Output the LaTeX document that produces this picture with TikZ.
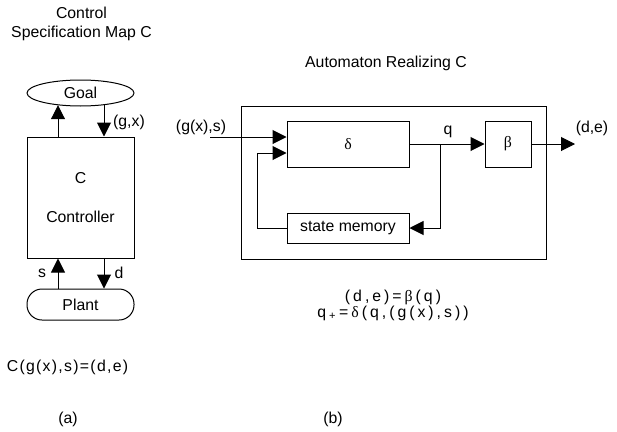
\documentclass[tikz,border=0pt]{standalone}
\usepackage{fontspec}
\setmainfont{Liberation Sans}
\newfontfamily\gk{Liberation Serif}
\usetikzlibrary{arrows.meta,shapes.geometric}
\newcommand{\ka}{\kern1.3pt}
\newcommand{\kb}{\kern3pt}
\begin{document}
\begin{tikzpicture}[x=1pt,y=-1pt,
  line width=1pt,
  every node/.style={font=\fontsize{15.8}{18}\selectfont, inner sep=0pt},
  arr/.style={-{Triangle[length=14pt,width=14pt]}},
  box/.style={draw, rectangle, inner sep=0pt},
  lbl/.style={anchor=center}]
\useasboundingbox (0,0) rectangle (617,431);
% ---- (a)
\node[lbl] (t1) at (81.5,13) {Control};
\node[lbl] (t2) at (81.5,33) {Specification Map C};
\node[draw, ellipse, minimum width=107pt, minimum height=26pt] (goal) at (80.5,93) {Goal};
\node[box, minimum width=107pt, minimum height=121pt] (ctrl) at (80.5,197.5) {};
\node[lbl] (cC) at (80.5,178) {C};
\node[lbl] (cName) at (80.5,217) {Controller};
\node[draw, rectangle, rounded corners=15pt, minimum width=107pt, minimum height=31pt] (plant) at (80.5,304.5) {Plant};
\coordinate (lx) at (58,0);
\coordinate (rx) at (104,0);
\draw[arr] (lx |- ctrl.north) -- (lx |- goal.208);
\draw[arr] (rx |- goal.332) -- (rx |- ctrl.north);
\draw[arr] (lx |- plant.north) -- (lx |- ctrl.south);
\draw[arr] (rx |- ctrl.south) -- (rx |- plant.north);
\node[lbl] (gx) at (129,122) {(g,x)};
\node[lbl] (sl) at (42,273) {s};
\node[lbl] (dl) at (119,273) {d};
\node[lbl] (fa) at (67.5,367) {C\ka(\ka g\ka(\ka x\ka)\ka,\ka s\ka)\ka=\ka(\ka d\ka,\ka e\ka)};
\node[lbl] (la) at (68,419) {(a)};
% ---- (b)
\node[lbl] (t3) at (386,63) {Automaton Realizing C};
\node[box, minimum width=305pt, minimum height=153pt] (outer) at (393.5,182.5) {};
\node[box, minimum width=122pt, minimum height=46pt] (delta) at (348,144) {\gk δ};
\node[box, minimum width=46pt, minimum height=46pt] (beta) at (508,144) {\gk β};
\node[box, minimum width=122pt, minimum height=30pt] (mem) at (348,228) {state memory};
\coordinate (in) at (210,137);
\coordinate (fbx) at (257,153);
\coordinate (br) at (440,144);
\coordinate (out) at (575,144);
\draw[arr] (in) -- (in -| delta.west);
\draw[arr] (mem.west) -| (fbx) -- (fbx -| delta.west);
\draw[arr] (delta.east) -- (beta.west);
\draw[arr] (br) |- (mem.east);
\draw[arr] (beta.east) -- (out);
\node[lbl] (inl) at (201,127) {(g(x),s)};
\node[lbl] (ql) at (448,132) {q};
\node[lbl] (outl) at (592,128) {(d,e)};
\node[lbl] (f1) at (393,297) {(\kb d\kb,\kb e\kb)\kb=\kb{\gk β}\kb(\kb q\kb)};
\node[lbl] (f2) at (393,313) {q\kb\textsubscript{+}\kb=\kb{\gk δ}\kb(\kb q\kb,\kb(\kb g\kb(\kb x\kb)\kb,\kb s\kb)\kb)};
\node[lbl] (lb) at (333,419) {(b)};
\end{tikzpicture}
\end{document}
